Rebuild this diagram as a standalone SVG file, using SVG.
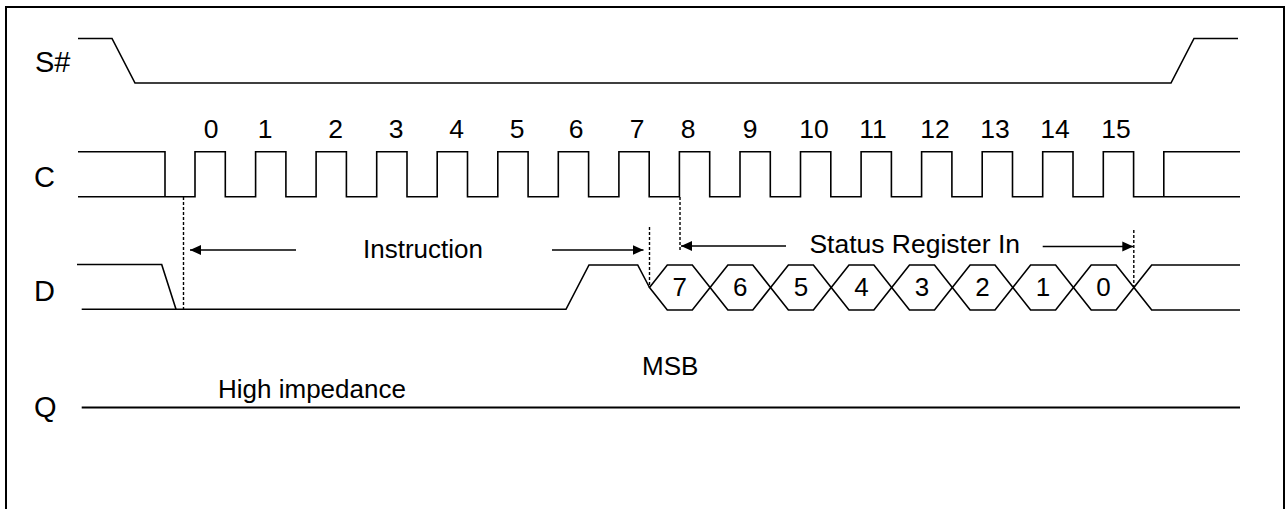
<svg xmlns="http://www.w3.org/2000/svg" width="1288" height="509" viewBox="0 0 1288 509">
<defs>
<style>
.sig{fill:none;stroke:#000;stroke-width:1.6;stroke-linejoin:miter}
.dash{fill:none;stroke:#000;stroke-width:1.4;stroke-dasharray:3 2}
.arr{fill:none;stroke:#000;stroke-width:1.6}
.lbl{font-family:"Liberation Sans",Arial,sans-serif;font-size:26px;fill:#000}
.name{font-family:"Liberation Sans",Arial,sans-serif;font-size:29px;fill:#000}
.mid{text-anchor:middle}
</style>
<marker id="ah" markerUnits="userSpaceOnUse" markerWidth="12" markerHeight="12" viewBox="0 0 12 12" refX="11" refY="6" orient="auto">
<path d="M0,1 L11,6 L0,11 Z" fill="#000"/>
</marker>
</defs>
<rect x="0" y="0" width="1288" height="509" fill="#fff"/>
<rect x="6" y="7" width="1278" height="540" fill="none" stroke="#000" stroke-width="2"/>

<g id="sig-S">
<text class="name" x="35" y="71.5">S#</text>
<polyline class="sig" points="78,38.5 112,38.5 135,83 1171,83 1194,38.5 1238,38.5"/>
</g>

<g id="sig-C">
<text class="name" x="34" y="186.5">C</text>
<path class="sig" d="M78,151.7 H165 V196.7"/>
<path class="sig" d="M78,196.7 H195 V151.7 H225.3 V196.7 H255.6 V151.7 H285.9 V196.7 H316.1 V151.7 H346.4 V196.7 H376.7 V151.7 H407 V196.7 H437.2 V151.7 H467.5 V196.7 H497.8 V151.7 H528.1 V196.7 H558.3 V151.7 H588.6 V196.7 H618.9 V151.7 H649.2 V196.7 H679.4 V151.7 H709.7 V196.7 H740 V151.7 H770.3 V196.7 H800.5 V151.7 H830.8 V196.7 H861.1 V151.7 H891.4 V196.7 H921.6 V151.7 H951.9 V196.7 H982.2 V151.7 H1012.5 V196.7 H1042.7 V151.7 H1073 V196.7 H1103.3 V151.7 H1133.6 V196.7 H1240"/>
<path class="sig" d="M1163.8,196.7 V151.7 H1240"/>
<g class="lbl mid" style="font-size:26.5px">
<text x="211" y="138">0</text>
<text x="265" y="138">1</text>
<text x="335.5" y="138">2</text>
<text x="396" y="138">3</text>
<text x="456.5" y="138">4</text>
<text x="517" y="138">5</text>
<text x="576" y="138">6</text>
<text x="637" y="138">7</text>
<text x="688" y="138">8</text>
<text x="750" y="138">9</text>
<text x="814" y="138">10</text>
<text x="873" y="138">11</text>
<text x="935" y="138">12</text>
<text x="995" y="138">13</text>
<text x="1055" y="138">14</text>
<text x="1116" y="138">15</text>
</g>
</g>

<g id="sig-D">
<text class="name" x="34" y="301">D</text>
<polyline class="sig" points="77,264.5 161.7,264.5 176,309.3"/>
<polyline class="sig" points="81.7,309.3 566,309.3 589,265 637.7,265 649.5,287.5"/>
<g class="sig">
<polygon points="649.5,287.5 667.3,265 692.3,265 710.1,287.5 692.3,310 667.3,310"/>
<polygon points="710.1,287.5 727.9,265 752.8,265 770.6,287.5 752.8,310 727.9,310"/>
<polygon points="770.6,287.5 788.4,265 813.4,265 831.2,287.5 813.4,310 788.4,310"/>
<polygon points="831.2,287.5 849,265 873.9,265 891.7,287.5 873.9,310 849,310"/>
<polygon points="891.7,287.5 909.5,265 934.5,265 952.3,287.5 934.5,310 909.5,310"/>
<polygon points="952.3,287.5 970.1,265 995,265 1012.8,287.5 995,310 970.1,310"/>
<polygon points="1012.8,287.5 1030.6,265 1055.6,265 1073.4,287.5 1055.6,310 1030.6,310"/>
<polygon points="1073.4,287.5 1091.2,265 1116.1,265 1133.9,287.5 1116.1,310 1091.2,310"/>
<polyline points="1133.9,287.5 1151.7,265 1240,265"/>
<polyline points="1133.9,287.5 1151.7,310 1240,310"/>
</g>
<g class="lbl mid">
<text x="679.8" y="296">7</text>
<text x="740.3" y="296">6</text>
<text x="800.9" y="296">5</text>
<text x="861.4" y="296">4</text>
<text x="922" y="296">3</text>
<text x="982.5" y="296">2</text>
<text x="1043.1" y="296">1</text>
<text x="1103.6" y="296">0</text>
</g>
<text class="lbl" x="642" y="375">MSB</text>
</g>

<g id="sig-Q">
<text class="name" x="34" y="417">Q</text>
<line x1="81.7" y1="407.5" x2="1240" y2="407.5" stroke="#000" stroke-width="2"/>
<text class="lbl" x="218" y="398">High impedance</text>
</g>

<g id="annotations">
<text class="lbl mid" x="423" y="258">Instruction</text>
<text class="lbl mid" x="914.7" y="253" style="font-size:26.5px">Status Register In</text>
</g>

<g id="connectors">
<line class="dash" x1="183.5" y1="197" x2="183.5" y2="309"/>
<line class="dash" x1="649.5" y1="227" x2="649.5" y2="287"/>
<line class="dash" x1="680" y1="197" x2="680" y2="250"/>
<line class="dash" x1="1133.8" y1="230" x2="1133.8" y2="287"/>
<line class="arr" x1="296" y1="250" x2="190" y2="250" marker-end="url(#ah)"/>
<line class="arr" x1="552" y1="250" x2="643.5" y2="250" marker-end="url(#ah)"/>
<line class="arr" x1="786" y1="246" x2="681" y2="246" marker-end="url(#ah)"/>
<line class="arr" x1="1042.7" y1="246.5" x2="1133.3" y2="246.5" marker-end="url(#ah)"/>
</g>
</svg>
